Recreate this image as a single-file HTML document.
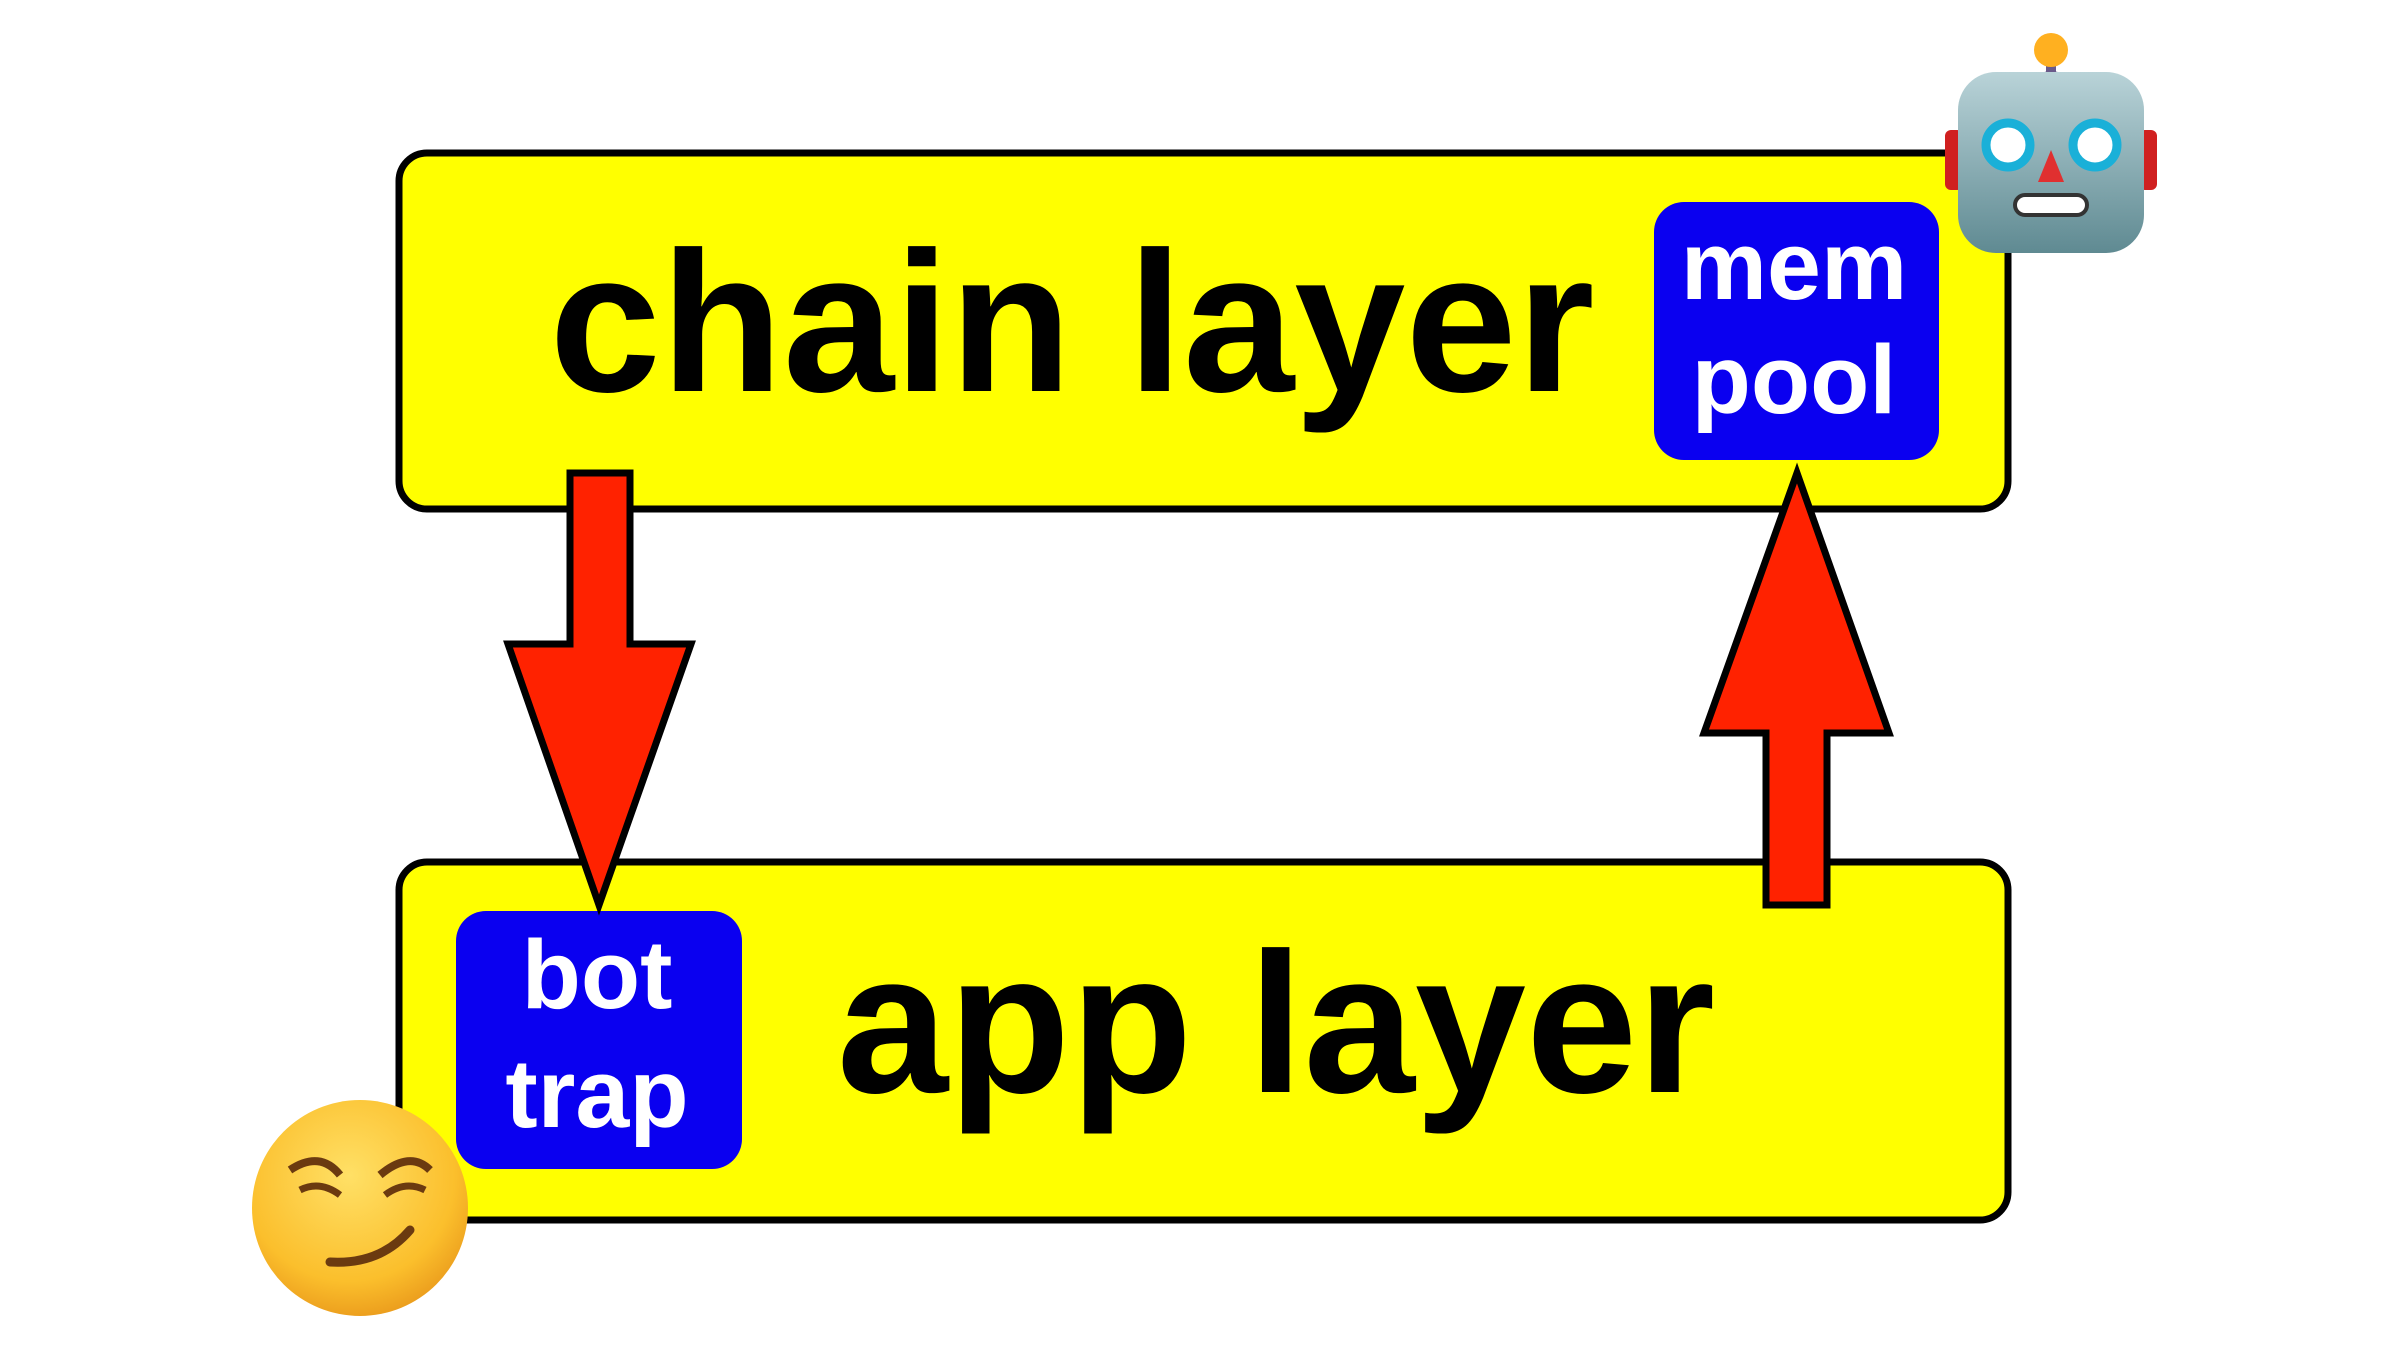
<!DOCTYPE html>
<html><head><meta charset="utf-8"><style>
html,body{margin:0;padding:0;background:#fff;}
body{width:2400px;height:1350px;position:relative;overflow:hidden;font-family:"Liberation Sans",Arial,sans-serif;}
</style></head><body>
<svg width="2400" height="1350" viewBox="0 0 2400 1350" style="position:absolute;left:0;top:0">
<defs>
<radialGradient id="sm" cx="0.45" cy="0.35" r="0.7"><stop offset="0" stop-color="#ffe066"/><stop offset="0.7" stop-color="#fbbf2c"/><stop offset="1" stop-color="#e8961a"/></radialGradient>
<linearGradient id="rb" x1="0" y1="0" x2="0" y2="1"><stop offset="0" stop-color="#b9d3d8"/><stop offset="1" stop-color="#5f8a92"/></linearGradient>
</defs>
<rect x="399" y="153" width="1609" height="356" rx="28" fill="#ffff00" stroke="#000" stroke-width="7"/>
<rect x="399" y="862" width="1609" height="358" rx="28" fill="#ffff00" stroke="#000" stroke-width="7"/>
<rect x="1654" y="202" width="285" height="258" rx="30" fill="#0a00f0"/>
<rect x="456" y="911" width="286" height="258" rx="30" fill="#0a00f0"/>
<text x="1072" y="391" font-size="200" font-weight="bold" text-anchor="middle" font-family="Liberation Sans,Arial,sans-serif">chain layer</text>
<text x="1276" y="1092" font-size="200" font-weight="bold" text-anchor="middle" font-family="Liberation Sans,Arial,sans-serif">app layer</text>
<g fill="#fff" font-size="97" font-weight="bold" text-anchor="middle" font-family="Liberation Sans,Arial,sans-serif">
<text x="1794" y="299">mem</text><text x="1794" y="413">pool</text>
<text x="597" y="1008">bot</text><text x="597" y="1127">trap</text>
</g>
<polygon points="570,473 630,473 630,644 691,644 599,905 508,644 570,644" fill="#ff2200" stroke="#000" stroke-width="7"/>
<polygon points="1766,905 1827,905 1827,733 1889,733 1797,473 1704,733 1766,733" fill="#ff2200" stroke="#000" stroke-width="7"/>
<g>
<line x1="2051" y1="55" x2="2051" y2="75" stroke="#6a5a8a" stroke-width="10"/>
<circle cx="2051" cy="50" r="17" fill="#ffb020"/>
<path d="M2030 80 Q2051 62 2072 80 Z" fill="#6a5a8a"/>
<rect x="1945" y="130" width="18" height="60" rx="6" fill="#d02020"/>
<rect x="2139" y="130" width="18" height="60" rx="6" fill="#d02020"/>
<rect x="1958" y="72" width="186" height="181" rx="38" fill="url(#rb)"/>
<circle cx="2008" cy="145" r="22" fill="#fff" stroke="#1ab0d8" stroke-width="9"/>
<circle cx="2095" cy="145" r="22" fill="#fff" stroke="#1ab0d8" stroke-width="9"/>
<polygon points="2051,150 2038,182 2064,182" fill="#e03030"/>
<rect x="2015" y="195" width="72" height="20" rx="10" fill="#fff" stroke="#333" stroke-width="4"/>
</g>
<g>
<circle cx="360" cy="1208" r="108" fill="url(#sm)"/>
<path d="M290 1170 Q320 1150 340 1175" stroke="#6b3a10" stroke-width="8" fill="none"/>
<path d="M380 1175 Q410 1150 430 1170" stroke="#6b3a10" stroke-width="8" fill="none"/>
<path d="M300 1190 Q320 1180 340 1195" stroke="#6b3a10" stroke-width="7" fill="none"/>
<path d="M385 1195 Q405 1180 425 1190" stroke="#6b3a10" stroke-width="7" fill="none"/>
<path d="M330 1262 Q380 1265 410 1230" stroke="#6b3a10" stroke-width="9" fill="none" stroke-linecap="round"/>
</g>
</svg>
</body></html>
